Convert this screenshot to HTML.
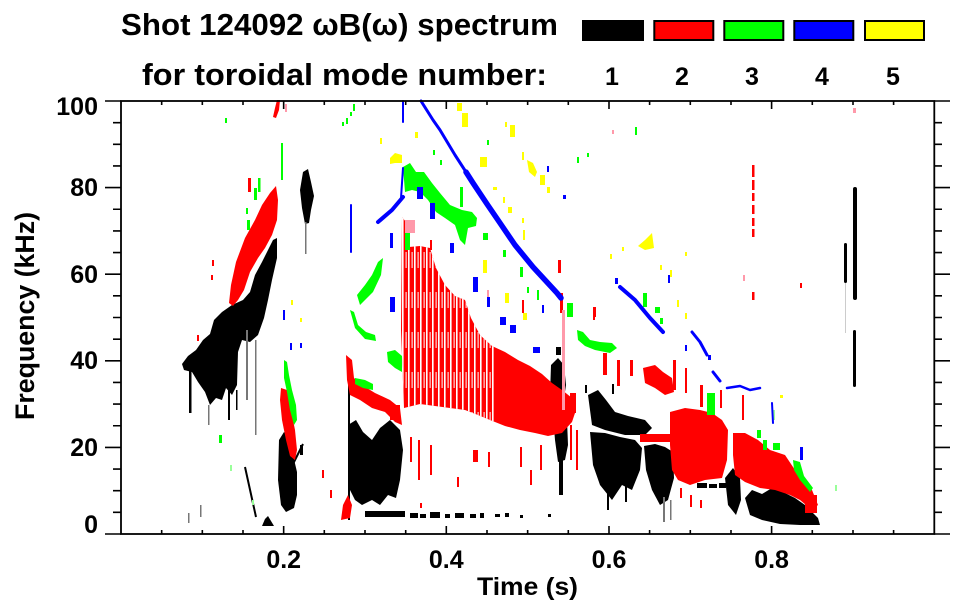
<!DOCTYPE html>
<html><head><meta charset="utf-8"><style>html,body{margin:0;padding:0;background:#fff}svg{display:block}</style></head>
<body>
<svg width="963" height="615" viewBox="0 0 963 615" xmlns="http://www.w3.org/2000/svg" font-family="'Liberation Sans', Arial, sans-serif" font-weight="bold">
<defs>
<pattern id="ws" width="6" height="40" patternUnits="userSpaceOnUse"><rect x="0" y="0" width="1.6" height="40" fill="#fff"/><rect x="3.6" y="12" width="1" height="16" fill="#fff"/></pattern>
<clipPath id="cr1"><path d="M402,217 L406,222 L409,247 L420,246 L430,248 L436,268 L445,285 L455,296 L465,300 L471,318 L480,335 L492,346 L505,352 L518,360 L530,366 L542,374 L552,383 L562,390 L572,398 L576,410 L572,422 L562,433 L548,436 L535,433 L520,430 L505,426 L490,420 L478,415 L465,410 L450,408 L435,406 L420,404 L404,408 L401,330 Z"/></clipPath>
</defs>
<rect width="963" height="615" fill="#fff"/>

<!-- ===== BLACK (n=1) ===== -->
<g fill="#000">
<path d="M182,364 L188,356 L196,350 L203,340 L210,334 L214,320 L222,312 L232,305 L243,300 L250,292 L255,275 L262,262 L268,250 L273,240 L277,238 L277,258 L272,280 L268,300 L264,318 L258,335 L250,342 L242,340 L238,352 L237,385 L232,395 L226,388 L222,400 L216,398 L210,405 L205,392 L198,382 L192,372 L184,370 Z"/>
<rect x="189" y="368" width="2.5" height="45"/><rect x="228" y="385" width="2" height="35"/><rect x="236" y="390" width="1.5" height="20"/>
<path d="M303,172 L308,169 L311,182 L314,196 L311,210 L309,223 L305,224 L302,208 L300,190 Z"/>
<path d="M279,440 L284,432 L289,438 L293,455 L297,472 L297,495 L294,508 L286,512 L281,505 L278,480 Z"/>
<path d="M262,526 L265,519 L268,516 L271,521 L274,526 Z"/>
<path d="M348,425 L356,420 L363,432 L372,440 L380,428 L390,420 L400,430 L403,450 L400,480 L396,498 L388,495 L380,505 L372,500 L362,505 L355,500 L350,490 L348,460 Z"/>
<rect x="365" y="511" width="40" height="6"/>
<rect x="410" y="513" width="8" height="5"/><rect x="420" y="514" width="6" height="4"/><rect x="430" y="512" width="10" height="6"/><rect x="445" y="514" width="5" height="4"/><rect x="455" y="513" width="9" height="5"/><rect x="470" y="514" width="6" height="4"/><rect x="480" y="513" width="4" height="5"/><rect x="495" y="514" width="5" height="3"/><rect x="505" y="513" width="4" height="4"/><rect x="520" y="515" width="3" height="3"/><rect x="548" y="514" width="3" height="3"/><rect x="392" y="512" width="6" height="5"/>
<rect x="348" y="380" width="2" height="140"/>
<path d="M551,365 L558,358 L564,365 L566,385 L563,405 L567,420 L568,445 L565,460 L558,462 L555,440 L553,415 L550,395 Z"/>
<rect x="559" y="460" width="4" height="35"/><rect x="556" y="347" width="5" height="8"/>
<path d="M588,395 L598,390 L606,400 L615,412 L628,416 L645,420 L652,428 L645,435 L625,435 L605,430 L592,425 Z"/>
<path d="M590,432 L605,433 L620,437 L635,440 L642,448 L640,470 L632,490 L622,485 L612,500 L600,485 L593,465 Z"/>
<path d="M644,446 L655,444 L665,447 L673,452 L674,478 L668,500 L660,505 L652,490 L646,470 Z"/>
<rect x="607" y="480" width="2" height="30"/><rect x="625" y="480" width="2" height="22"/><rect x="585" y="385" width="2" height="8"/><rect x="612" y="384" width="2" height="10"/>
<path d="M725,478 L733,468 L740,478 L741,500 L736,515 L728,505 Z"/>
<rect x="697" y="483" width="10" height="5"/><rect x="709" y="484" width="8" height="4"/><rect x="719" y="483" width="7" height="5"/>
<path d="M745,498 L752,490 L762,494 L772,488 L785,493 L795,498 L805,505 L812,512 L818,518 L820,525 L800,525 L780,524 L762,520 L750,515 Z"/>
<rect x="853" y="187" width="4" height="113" rx="2"/><rect x="844" y="243" width="3" height="40" rx="1.5"/><rect x="853" y="330" width="3" height="57" rx="1.5"/>
<rect x="300" y="445" width="3" height="10"/>
</g>
<g fill="#777">
<rect x="246" y="330" width="2" height="70"/><rect x="255" y="340" width="1.5" height="95"/><rect x="208" y="405" width="1.5" height="20"/><rect x="200" y="505" width="1.5" height="12"/><rect x="188" y="513" width="1.5" height="10"/><rect x="305" y="222" width="1.5" height="32"/><rect x="663" y="497" width="2" height="25"/><rect x="670" y="500" width="1.5" height="20"/>
</g>
<rect x="845" y="283" width="1" height="50" fill="#ccc"/>
<path d="M290,470 L303,444 M245,467 L256,517" stroke="#000" stroke-width="2" fill="none"/>

<!-- ===== RED (n=2) ===== -->
<g fill="#f00">
<path d="M229,303 L231,285 L236,262 L245,238 L255,220 L262,205 L270,193 L276,186 L278,200 L277,220 L272,235 L265,248 L258,258 L250,272 L244,290 L238,300 L233,306 Z"/>
<path d="M273,117 L275,108 L277,100 L280,100 L279,110 L276,118 Z"/>
<rect x="248" y="178" width="3" height="14"/>
<path d="M281,388 L287,390 L291,410 L295,430 L297,450 L295,460 L290,456 L286,440 L282,420 L280,400 Z"/>
<path d="M346,355 L352,360 L354,378 L362,385 L375,393 L390,400 L400,408 L402,425 L395,422 L385,412 L372,408 L360,400 L350,395 L347,380 Z"/>
<path d="M341,520 L343,505 L348,495 L352,505 L350,518 Z"/>
<path d="M402,217 L406,222 L409,247 L420,246 L430,248 L436,268 L445,285 L455,296 L465,300 L471,318 L480,335 L492,346 L505,352 L518,360 L530,366 L542,374 L552,383 L562,390 L572,398 L576,410 L572,422 L562,433 L548,436 L535,433 L520,430 L505,426 L490,420 L478,415 L465,410 L450,408 L435,406 L420,404 L404,408 L401,330 Z"/>
<path d="M670,412 L685,408 L700,410 L712,413 L722,420 L728,430 L727,460 L722,478 L705,480 L690,485 L678,480 L672,470 L670,445 Z"/>
<path d="M733,433 L745,433 L758,440 L770,450 L785,455 L795,470 L805,478 L812,490 L818,505 L812,510 L800,500 L790,495 L775,490 L760,488 L745,482 L735,475 L733,455 Z"/>
<path d="M643,368 L655,365 L663,372 L672,378 L674,392 L665,395 L655,388 L645,383 Z"/>
<rect x="640" y="434" width="32" height="8"/>
<rect x="752" y="165" width="2.5" height="12"/><rect x="752" y="180" width="2.5" height="10"/><rect x="752" y="193" width="2.5" height="8"/><rect x="752" y="205" width="2.5" height="9"/><rect x="752" y="218" width="2.5" height="8"/><rect x="752" y="229" width="2.5" height="8"/><rect x="752" y="292" width="2.5" height="8"/>
<rect x="603" y="353" width="4" height="22"/><rect x="617" y="360" width="3" height="26"/><rect x="630" y="360" width="3" height="16"/><rect x="673" y="360" width="3" height="30"/><rect x="685" y="368" width="2" height="25"/><rect x="700" y="385" width="3" height="22"/><rect x="720" y="390" width="2" height="18"/><rect x="742" y="395" width="2" height="25"/><rect x="593" y="310" width="2" height="10"/>
<rect x="570" y="393" width="6" height="20"/><rect x="570" y="425" width="2" height="35"/><rect x="576" y="430" width="2" height="40"/>
<rect x="410" y="437" width="2" height="25"/><rect x="418" y="440" width="2" height="40"/><rect x="430" y="445" width="2" height="30"/><rect x="473" y="450" width="5" height="12"/><rect x="488" y="452" width="2" height="15"/><rect x="520" y="447" width="2" height="20"/><rect x="457" y="477" width="2" height="10"/><rect x="420" y="503" width="2" height="5"/><rect x="540" y="445" width="2" height="25"/><rect x="530" y="470" width="2" height="15"/>
<rect x="558" y="260" width="3" height="13"/><rect x="560" y="293" width="3" height="20"/><rect x="593" y="307" width="3" height="10"/><rect x="522" y="300" width="2" height="13"/><rect x="430" y="240" width="2" height="10"/>
<rect x="390" y="405" width="10" height="15"/><rect x="322" y="470" width="2" height="8"/><rect x="330" y="490" width="2" height="8"/><rect x="197" y="335" width="2" height="6"/><rect x="212" y="260" width="2" height="6"/><rect x="211" y="275" width="2" height="5"/>
<rect x="690" y="495" width="2" height="12"/><rect x="680" y="488" width="2" height="10"/><rect x="700" y="500" width="2" height="8"/><rect x="805" y="495" width="12" height="18"/><rect x="800" y="283" width="2" height="5"/>
</g>
<rect x="400" y="215" width="95" height="225" fill="url(#ws)" clip-path="url(#cr1)"/>
<g fill="#f9a">
<rect x="405" y="220" width="10" height="13"/><rect x="562" y="310" width="3" height="100"/><rect x="487" y="290" width="2" height="12"/><rect x="853" y="108" width="3" height="5"/><rect x="612" y="130" width="2" height="4"/><rect x="285" y="104" width="2" height="8"/><rect x="743" y="275" width="2" height="6"/>
</g>

<!-- ===== GREEN (n=3) ===== -->
<g fill="#0f0">
<rect x="258" y="178" width="2.5" height="14"/><rect x="254" y="188" width="3" height="12"/><rect x="247" y="220" width="3" height="10"/><rect x="246" y="208" width="2" height="6"/>
<path d="M357,295 L365,285 L372,275 L378,262 L383,258 L381,275 L373,292 L365,300 L360,305 Z"/>
<path d="M350,310 L354,312 L358,325 L366,332 L375,335 L376,341 L365,339 L355,328 Z"/>
<path d="M387,352 L395,350 L402,356 L402,372 L395,368 L388,362 Z"/>
<path d="M355,378 L365,380 L373,384 L373,390 L363,388 L355,384 Z"/>
<path d="M284,360 L287,362 L289,375 L292,390 L296,405 L297,420 L294,425 L290,410 L287,392 L284,378 Z"/>
<path d="M403,167 L410,163 L416,172 L424,172 L432,183 L440,193 L450,205 L462,210 L472,212 L477,218 L476,226 L468,228 L465,245 L460,240 L455,225 L445,218 L436,212 L428,200 L420,192 L412,190 L405,192 Z"/>
<rect x="460" y="187" width="3" height="20"/><rect x="405" y="233" width="5" height="17"/>
<path d="M577,330 L583,332 L590,340 L600,342 L612,343 L617,348 L610,353 L595,350 L585,346 L578,340 Z"/>
<rect x="707" y="393" width="8" height="22"/><rect x="757" y="430" width="4" height="8"/><rect x="763" y="440" width="4" height="10"/><rect x="773" y="443" width="7" height="7"/><path d="M793,460 L800,462 L804,476 L813,488 L810,492 L800,480 L794,470 Z"/>
<rect x="440" y="160" width="2" height="5"/><rect x="433" y="150" width="2" height="5"/><rect x="487" y="140" width="2" height="5"/><rect x="577" y="157" width="2" height="6"/><rect x="587" y="153" width="2" height="4"/><rect x="635" y="127" width="2" height="8"/><rect x="483" y="233" width="5" height="7"/><rect x="503" y="250" width="3" height="7"/><rect x="520" y="267" width="3" height="10"/><rect x="527" y="287" width="2" height="6"/><rect x="537" y="290" width="2" height="10"/><rect x="567" y="303" width="6" height="14"/><rect x="643" y="293" width="4" height="14"/><rect x="655" y="307" width="5" height="6"/><rect x="346" y="118" width="2" height="6"/><rect x="350" y="112" width="2" height="4"/><rect x="353" y="104" width="2" height="7"/><rect x="342" y="122" width="2" height="4"/><rect x="225" y="118" width="2" height="5"/><rect x="281" y="143" width="2" height="37"/><rect x="219" y="435" width="3" height="8"/><rect x="660" y="318" width="3" height="6"/>
</g>
<g fill="#9f9"><rect x="230" y="465" width="2" height="6"/><rect x="252" y="500" width="2" height="5"/><rect x="773" y="410" width="2" height="10"/><rect x="835" y="485" width="2" height="6"/></g>

<!-- ===== BLUE (n=4) ===== -->
<g fill="none" stroke="#00f" stroke-linejoin="round" stroke-linecap="round">
<polyline points="421,101 433,120 440,130 455,155 466,172" stroke-width="3"/>
<polyline points="466,172 473,183 487,204 500,223 515,245 533,267 545,280 557,293 561,298" stroke-width="5.5"/>
<polyline points="620,287 635,300 650,318 663,332" stroke-width="4"/>
<polyline points="692,332 700,342 707,355" stroke-width="3"/>
<polyline points="713,372 720,381" stroke-width="3"/>
<polyline points="727,388 740,386 750,390 760,388" stroke-width="2.5"/>
<polyline points="378,222 392,210 403,197" stroke-width="4"/>
<polyline points="403,168 401,198" stroke-width="2"/>
<polyline points="403,101 403,122" stroke-width="2"/>
<polyline points="351,205 351,252" stroke-width="2"/>
<polyline points="772,403 773,423" stroke-width="2"/>
</g>
<g fill="#00f">
<rect x="417" y="187" width="6" height="12"/><rect x="430" y="203" width="5" height="16"/><rect x="450" y="243" width="4" height="10"/><rect x="473" y="277" width="5" height="15"/><rect x="487" y="297" width="3" height="10"/><rect x="390" y="297" width="5" height="15"/><rect x="500" y="317" width="6" height="8"/><rect x="510" y="325" width="6" height="8"/><rect x="533" y="347" width="7" height="6"/><rect x="547" y="166" width="2" height="6"/><rect x="563" y="195" width="3" height="4"/><rect x="283" y="310" width="2" height="10"/><rect x="290" y="343" width="2" height="7"/><rect x="300" y="343" width="2" height="5"/><rect x="800" y="447" width="3" height="13"/><rect x="685" y="345" width="2" height="6"/><rect x="708" y="355" width="3" height="5"/><rect x="390" y="233" width="3" height="15"/><rect x="542" y="305" width="2" height="8"/><rect x="615" y="278" width="3" height="6"/><rect x="668" y="275" width="2" height="8"/></g>

<!-- ===== YELLOW (n=5) ===== -->
<g fill="#ff0">
<rect x="457" y="103" width="5" height="8"/><rect x="462" y="113" width="6" height="14"/><rect x="415" y="132" width="3" height="6"/><path d="M390,158 L395,153 L402,155 L402,163 L395,163 L390,164 Z"/><rect x="480" y="157" width="7" height="10"/><rect x="505" y="122" width="2" height="5"/><rect x="510" y="125" width="5" height="12"/><rect x="522" y="152" width="2" height="8"/><path d="M527,160 L533,163 L537,172 L535,177 L529,172 Z"/><rect x="540" y="175" width="5" height="10"/><rect x="547" y="187" width="3" height="6"/><rect x="493" y="187" width="4" height="3"/><rect x="503" y="197" width="2" height="6"/><rect x="508" y="207" width="4" height="6"/><rect x="522" y="218" width="2" height="5"/><rect x="523" y="230" width="2" height="10"/><rect x="483" y="260" width="4" height="13"/><rect x="505" y="293" width="4" height="10"/><path d="M638,246 L645,240 L652,233 L654,248 L645,250 Z"/><rect x="523" y="313" width="4" height="7"/><rect x="685" y="313" width="2" height="6"/><rect x="780" y="395" width="3" height="3"/><rect x="670" y="270" width="2" height="7"/><rect x="677" y="300" width="2" height="7"/><rect x="660" y="265" width="2" height="5"/><rect x="685" y="252" width="2" height="4"/><rect x="291" y="300" width="2" height="5"/><rect x="300" y="318" width="2" height="4"/><rect x="380" y="138" width="2" height="6"/><rect x="610" y="254" width="2" height="5"/><rect x="622" y="247" width="2" height="4"/>
</g>

<!-- ===== AXES ===== -->
<rect x="121" y="101" width="813.3" height="433" fill="none" stroke="#000" stroke-width="1.8"/>
<path fill="none" stroke="#000" stroke-width="1.6" d="M105,534H121 M113,512.35H121 M113,490.7H121 M113,469.05H121 M105,447.4H121 M113,425.75H121 M113,404.1H121 M113,382.45H121 M105,360.8H121 M113,339.15H121 M113,317.5H121 M113,295.85H121 M105,274.2H121 M113,252.55H121 M113,230.9H121 M113,209.25H121 M105,187.6H121 M113,165.95H121 M113,144.3H121 M113,122.65H121 M105,101H121
M934.3,534H950 M934.3,512.35H942 M934.3,490.7H942 M934.3,469.05H942 M934.3,447.4H950 M934.3,425.75H942 M934.3,404.1H942 M934.3,382.45H942 M934.3,360.8H950 M934.3,339.15H942 M934.3,317.5H942 M934.3,295.85H942 M934.3,274.2H950 M934.3,252.55H942 M934.3,230.9H942 M934.3,209.25H942 M934.3,187.6H950 M934.3,165.95H942 M934.3,144.3H942 M934.3,122.65H942 M934.3,101H950
M161.67,534V530 M202.33,534V530 M243,534V530 M283.66,534V526 M324.3,534V530 M365,534V530 M405.7,534V530 M446.3,534V526 M487,534V530 M527.65,534V530 M568.3,534V530 M609,534V526 M649.6,534V530 M690.3,534V530 M731,534V530 M771.6,534V526 M812.3,534V530 M853,534V530 M893.6,534V530
M161.67,101V105 M202.33,101V105 M243,101V105 M283.66,101V109 M324.3,101V105 M365,101V105 M405.7,101V105 M446.3,101V109 M487,101V105 M527.65,101V105 M568.3,101V105 M609,101V109 M649.6,101V105 M690.3,101V105 M731,101V105 M771.6,101V109 M812.3,101V105 M853,101V105 M893.6,101V105"/>

<!-- tick labels -->
<g font-size="25" fill="#000" text-anchor="end">
<text x="98" y="115">100</text><text x="98" y="196">80</text><text x="98" y="283">60</text><text x="98" y="369">40</text><text x="98" y="456">20</text><text x="98" y="533">0</text>
</g>
<g font-size="25" fill="#000" text-anchor="middle">
<text x="283.7" y="568">0.2</text><text x="446.3" y="568">0.4</text><text x="609" y="568">0.6</text><text x="771.6" y="568">0.8</text>
<text x="527.5" y="595" textLength="101" lengthAdjust="spacingAndGlyphs">Time (s)</text>
</g>
<text transform="translate(34,316) rotate(-90)" text-anchor="middle" font-size="27" textLength="208" lengthAdjust="spacingAndGlyphs">Frequency (kHz)</text>

<!-- title -->
<text x="121" y="35" font-size="31" textLength="437" lengthAdjust="spacingAndGlyphs">Shot 124092 ωB(ω) spectrum</text>
<text x="142" y="85" font-size="31" textLength="405" lengthAdjust="spacingAndGlyphs">for toroidal mode number:</text>

<!-- legend -->
<rect x="582" y="20" width="62" height="21" fill="#000"/>
<rect x="654.3" y="21" width="59" height="19" fill="#f00" stroke="#000" stroke-width="2"/>
<rect x="724.3" y="21" width="59" height="19" fill="#0f0" stroke="#000" stroke-width="2"/>
<rect x="794.3" y="21" width="59" height="19" fill="#00f" stroke="#000" stroke-width="2"/>
<rect x="865" y="21" width="59" height="19" fill="#ff0" stroke="#000" stroke-width="2"/>
<g font-size="25" text-anchor="middle">
<text x="612" y="85">1</text><text x="682" y="85">2</text><text x="752" y="85">3</text><text x="822" y="85">4</text><text x="893" y="85">5</text>
</g>
</svg>
</body></html>
